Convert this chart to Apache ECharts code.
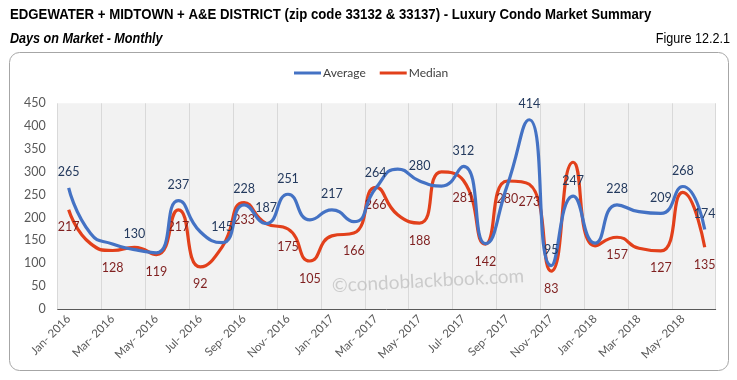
<!DOCTYPE html>
<html><head><meta charset="utf-8">
<script src="https://cdn.jsdelivr.net/npm/echarts@6/dist/echarts.min.js"></script>
<style>html,body{margin:0;padding:0;background:#fff}#c{width:737px;height:380px}</style>
</head><body><div id="c"></div>
<script>
const categories = ["Jan- 2016","Feb- 2016","Mar- 2016","Apr- 2016","May- 2016","Jun- 2016","Jul- 2016","Aug- 2016","Sep- 2016","Oct- 2016","Nov- 2016","Dec- 2016",
  "Jan- 2017","Feb- 2017","Mar- 2017","Apr- 2017","May- 2017","Jun- 2017","Jul- 2017","Aug- 2017","Sep- 2017","Oct- 2017","Nov- 2017","Dec- 2017",
  "Jan- 2018","Feb- 2018","Mar- 2018","Apr- 2018","May- 2018","Jun- 2018"];
const averageDays = [265,165,142,130,123,237,169,145,228,187,251,195,217,191,264,306,280,269,312,143,271,414,95,247,144,228,213,209,268,174];
const medianDays  = [217,143,128,135,119,217,92,136,233,187,175,105,160,166,266,206,188,300,281,142,280,273,83,321,138,157,133,127,255,135];
const averageLabelIdx = [0,3,5,7,8,9,10,12,14,16,18,21,22,23,25,27,28,29];
const medianLabelIdx  = [0,2,4,5,6,8,10,11,13,14,16,18,19,20,21,22,25,27,29];

const FONT = 'Lato, "Open Sans", sans-serif';
const NARROW = '"Liberation Sans", Arial, sans-serif';

const chart = echarts.init(document.getElementById('c'), null, { renderer: 'canvas' });
chart.setOption({
  animation: false,
  backgroundColor: '#ffffff',
  graphic: [
    { type: 'rect', shape: { x: 9.5, y: 52.5, width: 719, height: 318, r: 10 }, style: { fill: 'none', stroke: '#A6A6A6', lineWidth: 1 }, z: 0 },
    { type: 'text', x: 10, y: 7, scaleX: 0.88, style: { text: 'EDGEWATER + MIDTOWN + A&E DISTRICT (zip code 33132 & 33137) - Luxury Condo Market Summary', font: 'bold 15px ' + NARROW, fill: '#000' } },
    { type: 'text', x: 10, y: 32, scaleX: 0.9, style: { text: 'Days on Market - Monthly', font: 'italic bold 14px ' + NARROW, fill: '#000' } },
    { type: 'text', x: 730, y: 32, scaleX: 0.9, style: { text: 'Figure 12.2.1', font: '14px ' + NARROW, fill: '#000', align: 'right' } },
    { type: 'text', x: 428, y: 281, rotation: 3 * Math.PI / 180, style: { text: '\u00A9condoblackbook.com', font: '19px ' + FONT, fill: 'rgba(190,190,190,0.75)', align: 'center', verticalAlign: 'middle' }, z: 5 }
  ],
  legend: {
    left: 289, top: 62,
    icon: 'rect', itemWidth: 27, itemHeight: 3, itemGap: 14,
    textStyle: { fontFamily: FONT, fontSize: 12, color: '#404040', padding: [0, 0, 0, -3] },
    data: ['Average', 'Median']
  },
  grid: { left: 57.7, right: 21.3, top: 103.3, bottom: 71, show: true, backgroundColor: '#F2F2F2', borderWidth: 0 },
  xAxis: {
    type: 'category', data: categories, boundaryGap: true,
    axisLine: { lineStyle: { color: '#595959', width: 1 } },
    axisTick: { interval: 1, length: 5, lineStyle: { color: '#595959' } },
    splitLine: { show: true, interval: 1, lineStyle: { color: '#D9D9D9', width: 1 } },
    axisLabel: { interval: 1, rotate: 45, fontFamily: FONT, fontSize: 11.5, color: '#595959', margin: 8 }
  },
  yAxis: {
    type: 'value', min: 0, max: 450, interval: 50,
    axisLine: { show: false }, axisTick: { show: false }, splitLine: { show: false },
    axisLabel: { fontFamily: FONT, fontSize: 12.5, color: '#595959', margin: 12 }
  },
  series: [
    {
      name: 'Average', type: 'line', smooth: 0.55, symbol: 'circle', symbolSize: 0.01, showSymbol: true,
      lineStyle: { color: '#4472C4', width: 3.2 }, itemStyle: { color: '#4472C4' },
      data: averageDays,
      labelLayout: { hideOverlap: false },
      label: { show: true, position: 'top', distance: 9, fontFamily: FONT, fontSize: 12.5, color: '#243A5E',
        formatter: p => averageLabelIdx.includes(p.dataIndex) ? String(p.value) : '' },
      z: 3
    },
    {
      name: 'Median', type: 'line', smooth: 0.55, symbol: 'circle', symbolSize: 0.01, showSymbol: true,
      lineStyle: { color: '#E2401B', width: 3.2 }, itemStyle: { color: '#E2401B' },
      data: medianDays,
      labelLayout: { hideOverlap: false },
      label: { show: true, position: 'bottom', distance: 11, fontFamily: FONT, fontSize: 12.5, color: '#7F1F1F',
        formatter: p => medianLabelIdx.includes(p.dataIndex) ? String(p.value) : '' },
      z: 2
    }
  ]
});
</script>
</body></html>
